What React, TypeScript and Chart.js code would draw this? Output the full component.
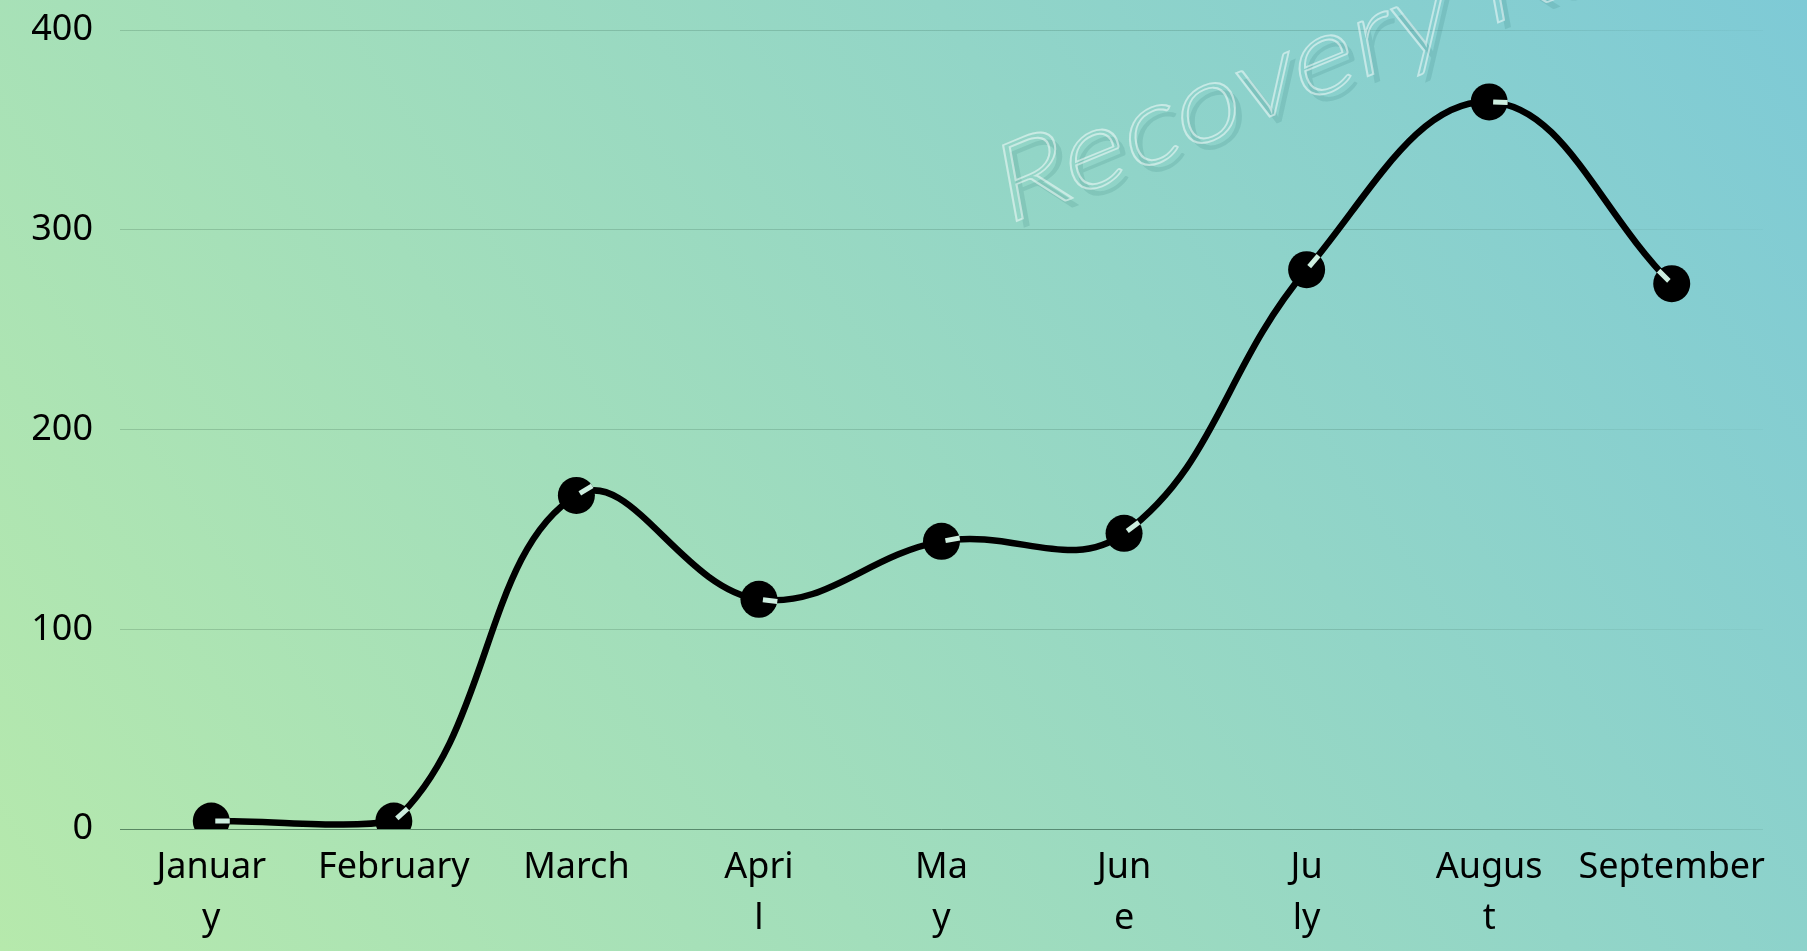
import React, { useEffect, useRef } from "react";
import { Chart, registerables } from "chart.js";

Chart.register(...registerables);

const monthLabels: string[][] = [
  ["Januar", "y"],
  ["February"],
  ["March"],
  ["Apri", "l"],
  ["Ma", "y"],
  ["Jun", "e"],
  ["Ju", "ly"],
  ["Augus", "t"],
  ["September"],
];
const recoveryValues: number[] = [4, 4, 167, 115, 144, 148, 280, 364, 273];
const yMin = 0;
const yMax = 400;
const yStep = 100;
const watermarkText = "Recovery Rate";

const FONT = "'Noto Sans', 'Open Sans', sans-serif";

const watermarkPlugin = {
  id: "watermark",
  beforeDatasetsDraw(chart: any) {
    const ctx = chart.ctx as CanvasRenderingContext2D;
    ctx.save();
    ctx.font = "300 100px Lato, 'Open Sans', sans-serif";
    ctx.textBaseline = "alphabetic";
    ctx.textAlign = "left";
    const w = ctx.measureText("Recove").width + 7;
    const sx = 391 / w;
    const ang = (-22.4 * Math.PI) / 180;
    const a = Math.cos(ang) * sx;
    const b = Math.sin(ang) * sx;
    const c = 0.194;
    const d = 1.07;
    const ox = 1014 - 8 * a;
    const oy = 222 - 8 * b;
    // shadow
    ctx.setTransform(a, b, c, d, ox + 7, oy + 7);
    ctx.fillStyle = "rgba(20,90,90,0.12)";
    ctx.fillText(watermarkText, 0, 0);
    // outline
    ctx.setTransform(a, b, c, d, ox, oy);
    ctx.strokeStyle = "rgba(255,255,255,0.5)";
    ctx.lineWidth = 1.7;
    ctx.strokeText(watermarkText, 0, 0);
    ctx.restore();
  },
};

const pointMarkPlugin = {
  id: "pointMarks",
  afterDatasetsDraw(chart: any) {
    const ctx = chart.ctx as CanvasRenderingContext2D;
    const meta = chart.getDatasetMeta(0);
    const pts = meta.data;
    ctx.save();
    ctx.strokeStyle = "#cdeedf";
    ctx.lineWidth = 5;
    ctx.lineCap = "butt";
    for (let i = 0; i < pts.length; i++) {
      const p = pts[i];
      let dx: number, dy: number;
      if (i < pts.length - 1) {
        dx = p.cp2x - p.x;
        dy = p.cp2y - p.y;
      } else {
        dx = p.cp1x - p.x;
        dy = p.cp1y - p.y;
      }
      const len = Math.hypot(dx, dy) || 1;
      dx /= len;
      dy /= len;
      const r = 18.5;
      ctx.beginPath();
      ctx.moveTo(p.x + dx * 4, p.y + dy * 4);
      ctx.lineTo(p.x + dx * r, p.y + dy * r);
      ctx.stroke();
    }
    ctx.restore();
  },
};

function gridGradient(chart: any, alpha: number) {
  const area = chart.chartArea;
  const ctx = chart.ctx as CanvasRenderingContext2D;
  if (!area) return `rgba(0,0,0,${alpha})`;
  const g = ctx.createLinearGradient(area.left, 0, area.right, 0);
  g.addColorStop(0, `rgba(0,40,20,${alpha})`);
  g.addColorStop(0.75, `rgba(0,40,20,${alpha * 0.85})`);
  g.addColorStop(1, `rgba(0,40,20,${alpha * 0.15})`);
  return g;
}

export default function App() {
  const canvasRef = useRef<HTMLCanvasElement | null>(null);

  useEffect(() => {
    document.body.style.margin = "0";
    const canvas = canvasRef.current;
    if (!canvas) return;
    const chart = new Chart(canvas, {
      type: "line",
      data: {
        labels: monthLabels,
        datasets: [
          {
            data: recoveryValues,
            borderColor: "#000000",
            borderWidth: 6.5,
            tension: 0.4,
            pointRadius: 18.5,
            pointBackgroundColor: "#000000",
            pointBorderWidth: 0,
            fill: false,
          },
        ],
      },
      options: {
        animation: false,
        responsive: false,
        maintainAspectRatio: false,
        layout: { padding: { top: 30, right: 44, left: 0, bottom: 0 } },
        plugins: {
          legend: { display: false },
          tooltip: { enabled: false },
        },
        scales: {
          x: {
            offset: true,
            grid: { display: false, drawTicks: false },
            border: { display: false },
            ticks: {
              color: "#000000",
              font: { family: FONT, size: 36, lineHeight: 1.4 },
              padding: 14,
              maxRotation: 0,
              autoSkip: false,
            },
            afterFit(scale: any) {
              scale.height = 122;
            },
          },
          y: {
            min: yMin,
            max: yMax,
            grid: {
              drawTicks: true,
              tickLength: 27,
              tickColor: "rgba(0,0,0,0)",
              lineWidth: 1,
              color: (c: any) =>
                c.tick && c.tick.value === 0
                  ? gridGradient(c.chart, 0.5)
                  : gridGradient(c.chart, 0.16),
            },
            border: { display: false },
            ticks: {
              stepSize: yStep,
              color: "#000000",
              font: { family: FONT, size: 36 },
              padding: 0,
            },
            afterFit(scale: any) {
              scale.width = 120;
            },
          },
        },
      },
      plugins: [watermarkPlugin, pointMarkPlugin],
    });
    return () => chart.destroy();
  }, []);

  return (
    <div
      style={{
        position: "fixed",
        left: 0,
        top: 0,
        width: 1807,
        height: 951,
        background: "linear-gradient(56deg, #b6e9ac 0%, #7ecad6 100%)",
      }}
    >
      <canvas ref={canvasRef} width={1807} height={951} style={{ display: "block" }} />
    </div>
  );
}
